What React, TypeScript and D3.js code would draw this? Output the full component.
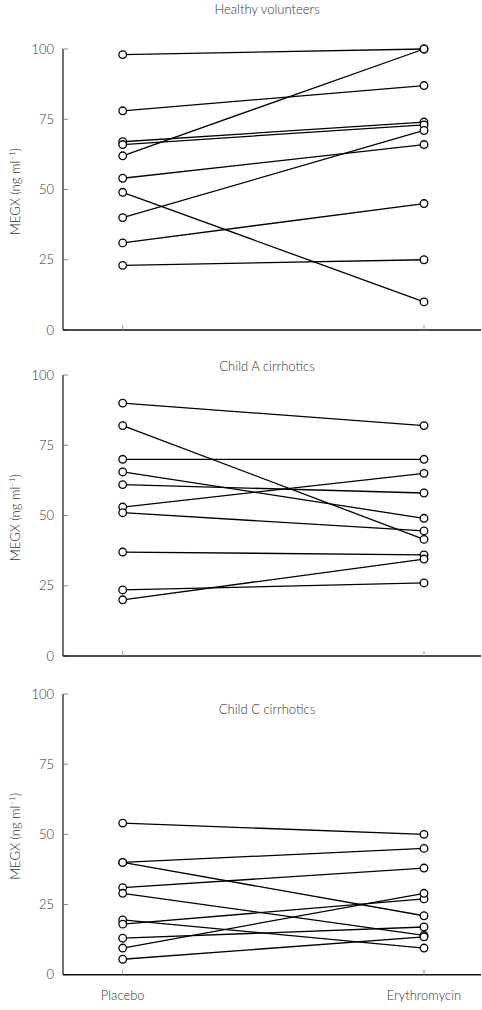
import React from "react";
import * as d3 from "d3";

const treatments = ["Placebo", "Erythromycin"];
const yTicks = [0, 25, 50, 75, 100];

const panelTitles = ["Healthy volunteers", "Child A cirrhotics", "Child C cirrhotics"];

const healthyPlacebo = [98, 78, 67, 66, 62, 54, 49, 40, 31, 23];
const healthyErythro = [100, 87, 74, 73, 100, 66, 10, 71, 45, 25];

const childAPlacebo = [90, 82, 70, 65.5, 61, 53, 51, 37, 23.5, 20];
const childAErythro = [82, 41.5, 70, 49, 58, 65, 44.5, 36, 26, 34.5];

const childCPlacebo = [54, 40, 40, 31, 29, 19.5, 18, 13, 9.5, 5.5];
const childCErythro = [50, 45, 21, 38, 14, 9.5, 27, 17, 29, 13.5];

const W = 482;
const H = 1010;
const axisX = 63;
const axisRight = 481;
const FONT = "Lato, 'Open Sans', sans-serif";
const TEXT = "#333";
const FW = 300;

const panels = [
  { title: panelTitles[0], placebo: healthyPlacebo, erythro: healthyErythro, top: 49, bottom: 330, titleY: 14 },
  { title: panelTitles[1], placebo: childAPlacebo, erythro: childAErythro, top: 375, bottom: 656, titleY: 371 },
  { title: panelTitles[2], placebo: childCPlacebo, erythro: childCErythro, top: 694, bottom: 974.7, titleY: 714 },
];

const x = d3.scalePoint<string>().domain(treatments).range([122.7, 424]);

function Panel({ p, showX }: { p: (typeof panels)[number]; showX: boolean }) {
  const y = d3.scaleLinear().domain([0, 100]).range([p.bottom, p.top]);
  const line = d3.line<[number, number]>().x((d) => d[0]).y((d) => d[1]);
  const xp = x("Placebo")!;
  const xe = x("Erythromycin")!;
  const mid = (p.top + p.bottom) / 2 + 2;
  return (
    <g>
      <text x={267} y={p.titleY} textAnchor="middle" fontSize={13} fontWeight={FW} fill={TEXT} fontFamily={FONT}>
        {p.title}
      </text>
      {/* y axis */}
      <line x1={axisX} x2={axisX} y1={y(100)} y2={y(0)} stroke="#111" strokeWidth={1.2} />
      {yTicks.map((t) => (
        <g key={t}>
          <line x1={axisX} x2={axisX + 5} y1={y(t)} y2={y(t)} stroke="#888" strokeWidth={1} />
          <text x={54} y={y(t)} dy="0.36em" textAnchor="end" fontSize={13} fontWeight={FW} fill={TEXT} fontFamily={FONT}>
            {t}
          </text>
        </g>
      ))}
      {/* x axis */}
      <line x1={axisX} x2={axisRight} y1={y(0)} y2={y(0)} stroke="#111" strokeWidth={1.5} />
      {treatments.map((tr) => (
        <line key={tr} x1={x(tr)} x2={x(tr)} y1={y(0)} y2={y(0) - 5} stroke="#999" strokeWidth={1} />
      ))}
      {showX &&
        treatments.map((tr) => (
          <text key={tr} x={x(tr)} y={y(0) + 25} textAnchor="middle" fontSize={13} fontWeight={FW} fill={TEXT} fontFamily={FONT}>
            {tr}
          </text>
        ))}
      {/* y label */}
      <text
        transform={`translate(20,${mid}) rotate(-90)`}
        textAnchor="middle"
        fontSize={13}
        fontWeight={FW}
        fill={TEXT}
        fontFamily={FONT}
      >
        MEGX (ng ml
        <tspan dy={-5} fontSize={8}>
          −1
        </tspan>
        <tspan dy={5}>)</tspan>
      </text>
      {/* lines */}
      {p.placebo.map((v, i) => (
        <path
          key={"l" + i}
          d={line([
            [xp, y(v)],
            [xe, y(p.erythro[i])],
          ])!}
          stroke="#000"
          strokeWidth={1.3}
          fill="none"
        />
      ))}
      {p.placebo.map((v, i) => (
        <circle key={"p" + i} cx={xp} cy={y(v)} r={3.8} fill="#fff" stroke="#000" strokeWidth={1.3} />
      ))}
      {p.erythro.map((v, i) => (
        <circle key={"e" + i} cx={xe} cy={y(v)} r={3.8} fill="#fff" stroke="#000" strokeWidth={1.3} />
      ))}
    </g>
  );
}

export default function App() {
  return (
    <svg
      width={W}
      height={H}
      style={{ position: "absolute", left: 0, top: 0, background: "#fff" }}
    >
      {panels.map((p, i) => (
        <Panel key={i} p={p} showX={i === panels.length - 1} />
      ))}
    </svg>
  );
}
